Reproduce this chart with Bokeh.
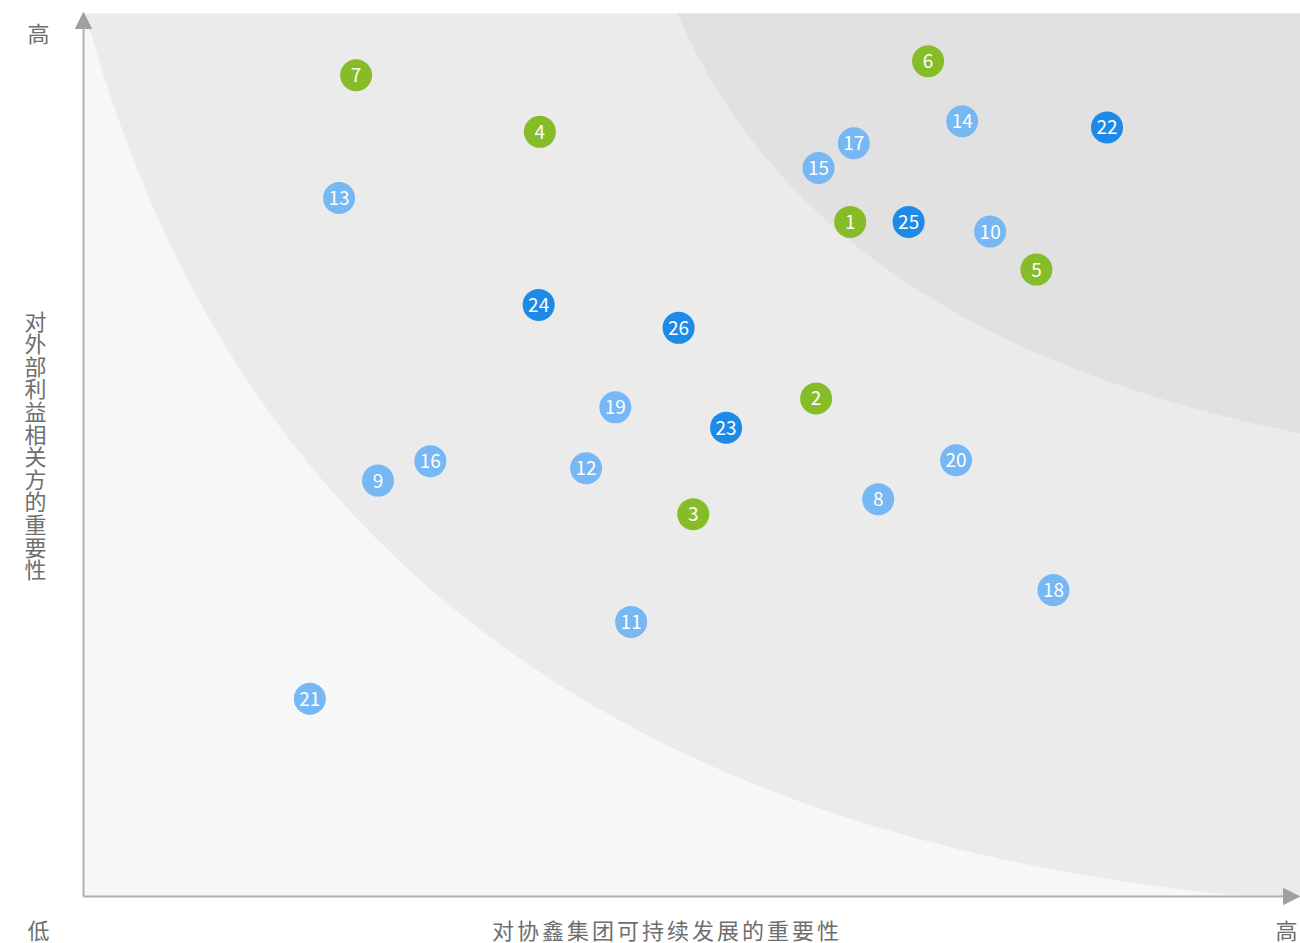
import numpy as np
from bokeh.plotting import figure
from bokeh.models import Range1d, Label, Arrow, NormalHead, ColumnDataSource
from bokeh.core.properties import value
from bokeh.embed import file_html
from bokeh.resources import INLINE

# ---------------- data ----------------
ids = [1, 2, 3, 4, 5, 6, 7,
       8, 9, 10, 11, 12, 13, 14, 15, 16, 17, 18, 19, 20, 21,
       22, 23, 24, 25, 26]
x_vals = [63.0, 60.2, 50.1, 37.5, 78.3, 69.4, 22.4,
          65.3, 24.2, 74.5, 45.0, 41.3, 21.0, 72.2, 60.4, 28.5, 63.3, 79.7, 43.7, 71.7, 18.6,
          84.1, 52.8, 37.4, 67.8, 48.9]
y_vals = [76.4, 56.4, 43.3, 86.6, 71.0, 94.6, 93.0,
          45.0, 47.1, 75.3, 31.1, 48.5, 79.1, 87.8, 82.5, 49.3, 85.3, 34.7, 55.4, 49.4, 22.4,
          87.1, 53.1, 67.0, 76.4, 64.4]
group = ["g"] * 7 + ["l"] * 14 + ["d"] * 5
group_colors = {"g": "#86bc28", "l": "#76b7f4", "d": "#1d8ae8"}

x_title = "对协鑫集团可持续发展的重要性"
y_title = "对外部利益相关方的重要性"
low_label = "低"
high_label = "高"

# ---------------- layout ----------------
W, H = 1300, 943
AX_L, AX_R, AX_T, AX_B = 83, 1300, 13, 896   # plot area in page pixels
FONT_NAME = "Noto Sans CJK SC"
TXT = "#6e6e6e"


def dx(px):  # page x pixel -> data
    return (px - AX_L) / (AX_R - AX_L) * 100


def dy(py):  # page y pixel -> data
    return (AX_B - py) / (AX_B - AX_T) * 100


p = figure(width=W, height=H, output_backend="svg", toolbar_location=None,
           x_range=Range1d(dx(0), dx(W)), y_range=Range1d(dy(H), dy(0)),
           x_axis_location=None, y_axis_location=None,
           min_border=0, min_border_left=0, min_border_right=0,
           min_border_top=0, min_border_bottom=0,
           background_fill_color="white", border_fill_color="white",
           outline_line_color=None)
p.xgrid.visible = False
p.ygrid.visible = False

# plot area background (outer zone)
p.quad(left=[0], right=[100], bottom=[0], top=[100], fill_color="#f7f7f7", line_color=None)


def bezier(p0, c, p2, n=200):
    t = np.linspace(0, 1, n)
    bx = (1 - t) ** 2 * p0[0] + 2 * t * (1 - t) * c[0] + t ** 2 * p2[0]
    by = (1 - t) ** 2 * p0[1] + 2 * t * (1 - t) * c[1] + t ** 2 * p2[1]
    return bx, by


# middle zone
ox, oy = bezier((dx(85), dy(13)), (dx(300), dy(810)), (dx(1250), dy(896)))
mx = list(ox) + [100, 100]
my = list(oy) + [0, 100]
p.patch(mx, my, fill_color="#ebebeb", line_color=None)

# inner zone
ix, iy = bezier((dx(677), dy(13)), (dx(816), dy(336)), (dx(1300), dy(433)))
nx = list(ix) + [100]
ny = list(iy) + [100]
p.patch(nx, ny, fill_color="#e1e1e1", line_color=None)

# axes with arrows
ax_col = "#b0b0b0"
head_col = "#a0a0a0"
p.add_layout(Arrow(end=NormalHead(size=16, fill_color=head_col, line_color=head_col),
                   x_start=0, y_start=0, x_end=dx(1299), y_end=0,
                   line_color=ax_col, line_width=2))
p.add_layout(Arrow(end=NormalHead(size=16, fill_color=head_col, line_color=head_col),
                   x_start=0, y_start=0, x_end=0, y_end=dy(12),
                   line_color=ax_col, line_width=2))

# bubbles
src = ColumnDataSource(dict(x=x_vals, y=y_vals, label=[str(i) for i in ids],
                            color=[group_colors[g] for g in group]))
p.scatter("x", "y", source=src, size=32, fill_color="color", line_color=None)
p.text("x", "y", text="label", source=src, text_align="center", text_baseline="middle",
       text_color="white", text_font=value(FONT_NAME), text_font_size="19px")

# corner labels
for txt, px, py in [(high_label, 38, 31), (low_label, 38, 928), (high_label, 1286, 928)]:
    p.add_layout(Label(x=dx(px), y=dy(py), text=txt, text_align="center",
                       text_baseline="middle", text_color=TXT, text_font=FONT_NAME,
                       text_font_size="22px"))

# x title, spaced characters
n = len(x_title)
for i, ch in enumerate(x_title):
    cx = 665 + (i - (n - 1) / 2) * 25
    p.add_layout(Label(x=dx(cx), y=dy(928), text=ch, text_align="center",
                       text_baseline="middle", text_color=TXT, text_font=FONT_NAME,
                       text_font_size="22px"))

# y title, stacked characters
for i, ch in enumerate(y_title):
    cy = 319 + i * 22.6
    p.add_layout(Label(x=dx(35), y=dy(cy), text=ch, text_align="center",
                       text_baseline="middle", text_color=TXT, text_font=FONT_NAME,
                       text_font_size="22px"))

open("out.html", "w").write(file_html(p, INLINE))
